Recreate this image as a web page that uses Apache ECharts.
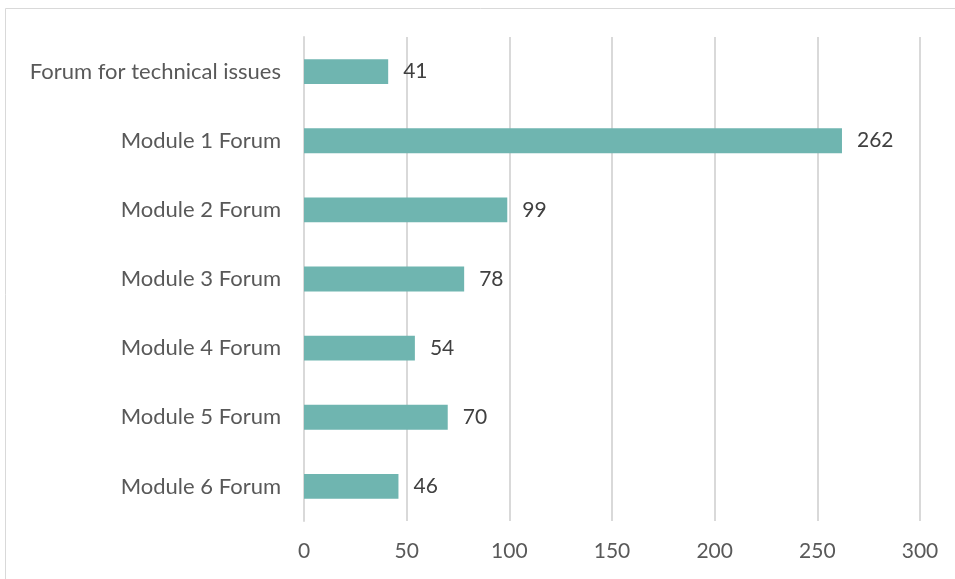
<!DOCTYPE html>
<html>
<head>
<meta charset="utf-8">
<script src="https://cdn.jsdelivr.net/npm/echarts@6/dist/echarts.min.js"></script>
<style>
html,body{margin:0;padding:0;background:#fff;}
#chart{width:955px;height:579px;}
</style>
</head>
<body>
<div id="chart"></div>
<script>
const categories = ["Forum for technical issues","Module 1 Forum","Module 2 Forum","Module 3 Forum","Module 4 Forum","Module 5 Forum","Module 6 Forum"];
const values = [41, 262, 99, 78, 54, 70, 46];
const xTicks = [0, 50, 100, 150, 200, 250, 300];

const chart = echarts.init(document.getElementById('chart'));
const font = 'Lato, "Open Sans", sans-serif';
chart.setOption({
  animation: false,
  graphic: [{
    type: 'rect',
    shape: {x: 5.5, y: 8.5, width: 1200, height: 1000},
    style: {fill: 'none', stroke: '#d9d9d9', lineWidth: 1},
    silent: true
  }],
  grid: {left: 304, right: 35, top: 37, bottom: 58, containLabel: false},
  xAxis: {
    type: 'value',
    min: xTicks[0],
    max: xTicks[xTicks.length - 1],
    interval: 50,
    axisLine: {show: false},
    axisTick: {show: false},
    splitLine: {show: true, lineStyle: {color: '#d9d9d9', width: 2}},
    axisLabel: {color: '#595959', fontSize: 21, fontFamily: font, margin: 20}
  },
  yAxis: {
    type: 'category',
    data: categories,
    inverse: true,
    axisLine: {show: true, lineStyle: {color: '#d9d9d9', width: 2}},
    axisTick: {show: false},
    axisLabel: {color: '#595959', fontSize: 22, fontFamily: font, margin: 23}
  },
  series: [{
    type: 'bar',
    data: values,
    barWidth: '36%',
    itemStyle: {color: '#6fb5b0'},
    label: {
      show: true,
      position: 'right',
      distance: 15,
      color: '#404040',
      fontSize: 21,
      fontFamily: font
    }
  }]
});
</script>
</body>
</html>
